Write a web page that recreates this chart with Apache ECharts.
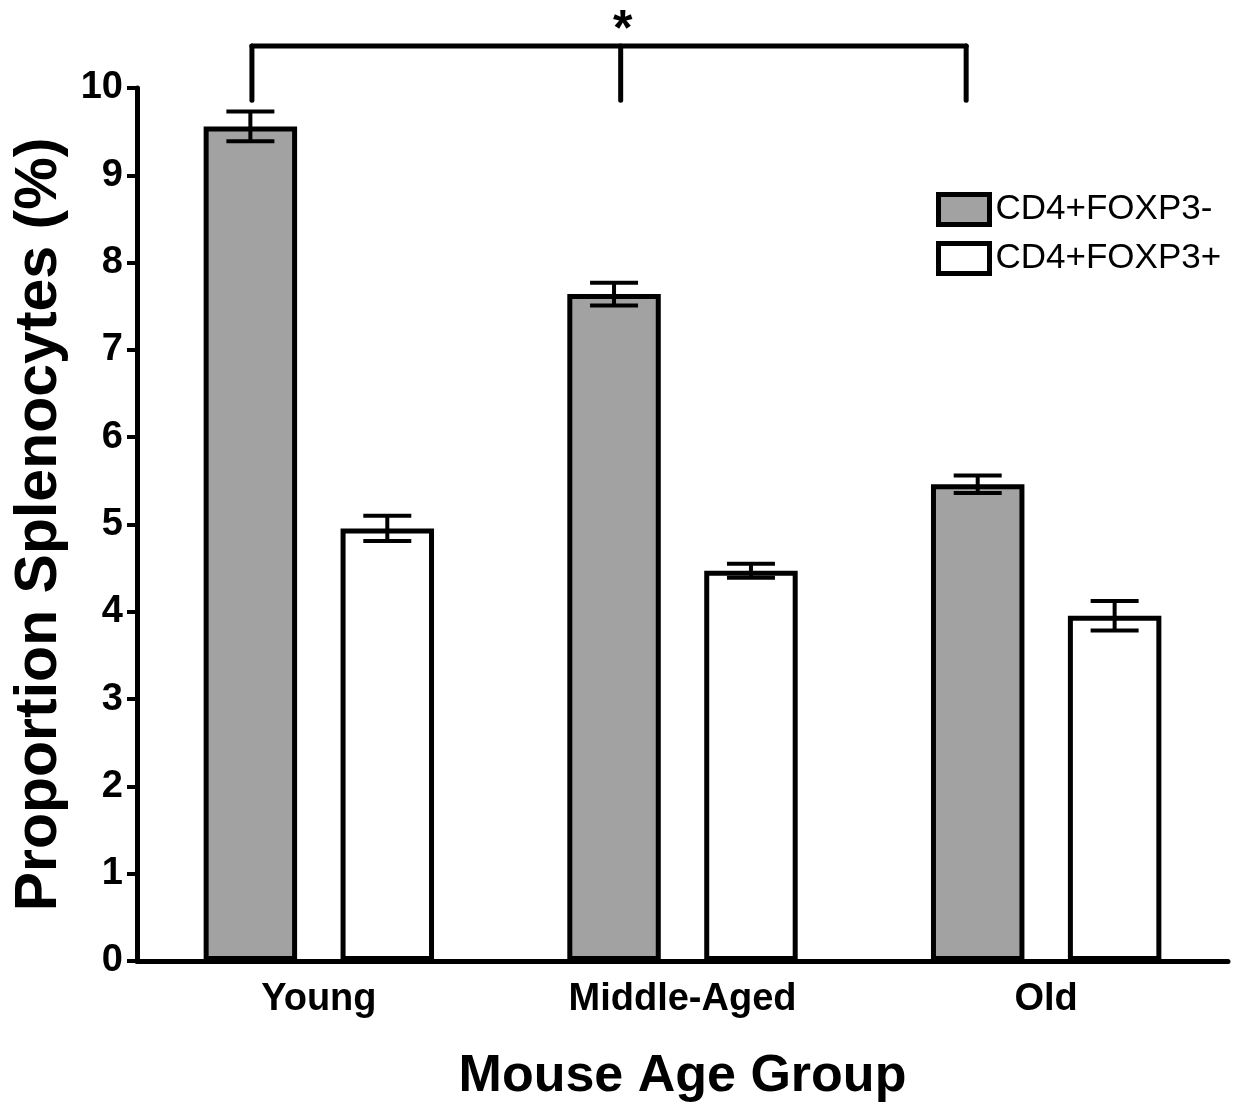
<!DOCTYPE html>
<html><head><meta charset="utf-8">
<script src="https://cdn.jsdelivr.net/npm/echarts@6/dist/echarts.min.js"></script>
<style>html,body{margin:0;padding:0;background:#fff}#c{width:1246px;height:1108px}</style>
</head><body><div id="c"></div>
<script>
// ---- data ----
const categories = ['Young', 'Middle-Aged', 'Old'];
const seriesNames = ['CD4+FOXP3-', 'CD4+FOXP3+'];
const foxp3NegMean = [9.56, 7.64, 5.46];
const foxp3NegErr  = [0.17, 0.13, 0.10];
const foxp3PosMean = [4.955, 4.47, 3.955];
const foxp3PosErr  = [0.145, 0.08, 0.17];
const yTicks = [0, 1, 2, 3, 4, 5, 6, 7, 8, 9, 10];
const significance = { groups: [0, 1, 2], label: '*', level: 10.48, drop: 9.86 };

// ---- style ----
const FONT = "'Liberation Sans', Arial, sans-serif";
const BAR_W = 0.257;   // fraction of category width
const BAR_GAP = 0.465; // fraction of bar width
const BRACKET_OFFSETS = [-0.184, -0.170, -0.220]; // fraction of category width, per bracket leg
const offsetFor = (idx, catW) => {
  const bw = catW * BAR_W, gap = bw * BAR_GAP;
  return (idx === 0 ? -1 : 1) * (bw + gap) / 2;
};

function errorSeries(means, errs, idx) {
  return {
    type: 'custom', z: 5, silent: true,
    data: means.map((m, i) => [i, m, errs[i]]),
    renderItem(params, api) {
      const ci = api.value(0), m = api.value(1), e = api.value(2);
      const catW = api.size([1, 0])[0];
      const off = offsetFor(idx, catW);
      const top = api.coord([ci, m + e]);
      const bot = api.coord([ci, m - e]);
      const x = top[0] + off, half = 24;
      const st = { stroke: '#000', lineWidth: 4 };
      return { type: 'group', children: [
        { type: 'line', shape: { x1: x, y1: top[1], x2: x, y2: bot[1] }, style: st },
        { type: 'line', shape: { x1: x - half, y1: top[1], x2: x + half, y2: top[1] }, style: st },
        { type: 'line', shape: { x1: x - half, y1: bot[1], x2: x + half, y2: bot[1] }, style: st }
      ]};
    }
  };
}

const chart = echarts.init(document.getElementById('c'), null, { renderer: 'canvas' });
chart.setOption({
  animation: false,
  backgroundColor: '#fff',
  textStyle: { fontFamily: FONT },
  grid: { left: 137, right: 18, top: 88, bottom: 145, containLabel: false },
  legend: {
    orient: 'vertical', left: 931, top: 187, itemWidth: 51, itemHeight: 30, itemGap: 14,
    icon: 'rect',
    data: seriesNames,
    textStyle: { fontFamily: FONT, fontSize: 35, color: '#000', padding: [0, 0, 0, 1] },
    itemStyle: { borderColor: '#000', borderWidth: 5 }
  },
  xAxis: {
    type: 'category', data: categories,
    axisLine: { lineStyle: { color: '#000', width: 5 } },
    axisTick: { alignWithLabel: true, length: 15, lineStyle: { color: '#000', width: 4 } },
    axisLabel: { color: '#000', fontFamily: FONT, fontWeight: 'bold', fontSize: 38, margin: 20 },
    name: 'Mouse Age Group', nameLocation: 'middle', nameGap: 90,
    nameTextStyle: { color: '#000', fontFamily: FONT, fontWeight: 'bold', fontSize: 52 }
  },
  yAxis: {
    type: 'value', min: yTicks[0], max: yTicks[yTicks.length - 1], interval: 1,
    splitLine: { show: false },
    axisLine: { show: true, lineStyle: { color: '#000', width: 5 } },
    axisTick: { show: true, length: 10, lineStyle: { color: '#000', width: 4 } },
    axisLabel: { color: '#000', fontFamily: FONT, fontWeight: 'bold', fontSize: 38, margin: 14 },
    name: 'Proportion Splenocytes (%)', nameLocation: 'middle', nameGap: 68,
    nameTextStyle: { color: '#000', fontFamily: FONT, fontWeight: 'bold', fontSize: 59 }
  },
  series: [
    { name: seriesNames[0], type: 'bar', data: foxp3NegMean, barWidth: (BAR_W * 100) + '%', barGap: (BAR_GAP * 100) + '%',
      itemStyle: { color: '#a2a2a2', borderColor: '#000', borderWidth: 5 } },
    { name: seriesNames[1], type: 'bar', data: foxp3PosMean, barWidth: (BAR_W * 100) + '%', barGap: (BAR_GAP * 100) + '%',
      itemStyle: { color: '#fff', borderColor: '#000', borderWidth: 5 } },
    errorSeries(foxp3NegMean, foxp3NegErr, 0),
    errorSeries(foxp3PosMean, foxp3PosErr, 1),
    {
      type: 'custom', z: 6, silent: true, clip: false,
      data: [[0]],
      renderItem(params, api) {
        const g = significance.groups;
        const catW = api.size([1, 0])[0];
        const xs = g.map((ci, k) => api.coord([ci, significance.level])[0] + BRACKET_OFFSETS[k] * catW);
        const yLevel = api.coord([0, significance.level])[1];
        const yDrop = api.coord([0, significance.drop])[1];
        const st = { stroke: '#000', lineWidth: 5, lineCap: 'round' };
        const children = [
          { type: 'line', shape: { x1: xs[0], y1: yLevel, x2: xs[xs.length - 1], y2: yLevel }, style: st }
        ];
        xs.forEach(x => children.push({ type: 'line', shape: { x1: x, y1: yLevel, x2: x, y2: yDrop }, style: st }));
        children.push({ type: 'text', x: xs[1] + 2, y: yLevel + 10,
          style: { text: significance.label, fill: '#000', font: 'bold 50px ' + FONT, align: 'center', verticalAlign: 'bottom' } });
        return { type: 'group', children };
      }
    }
  ]
});
</script></body></html>
